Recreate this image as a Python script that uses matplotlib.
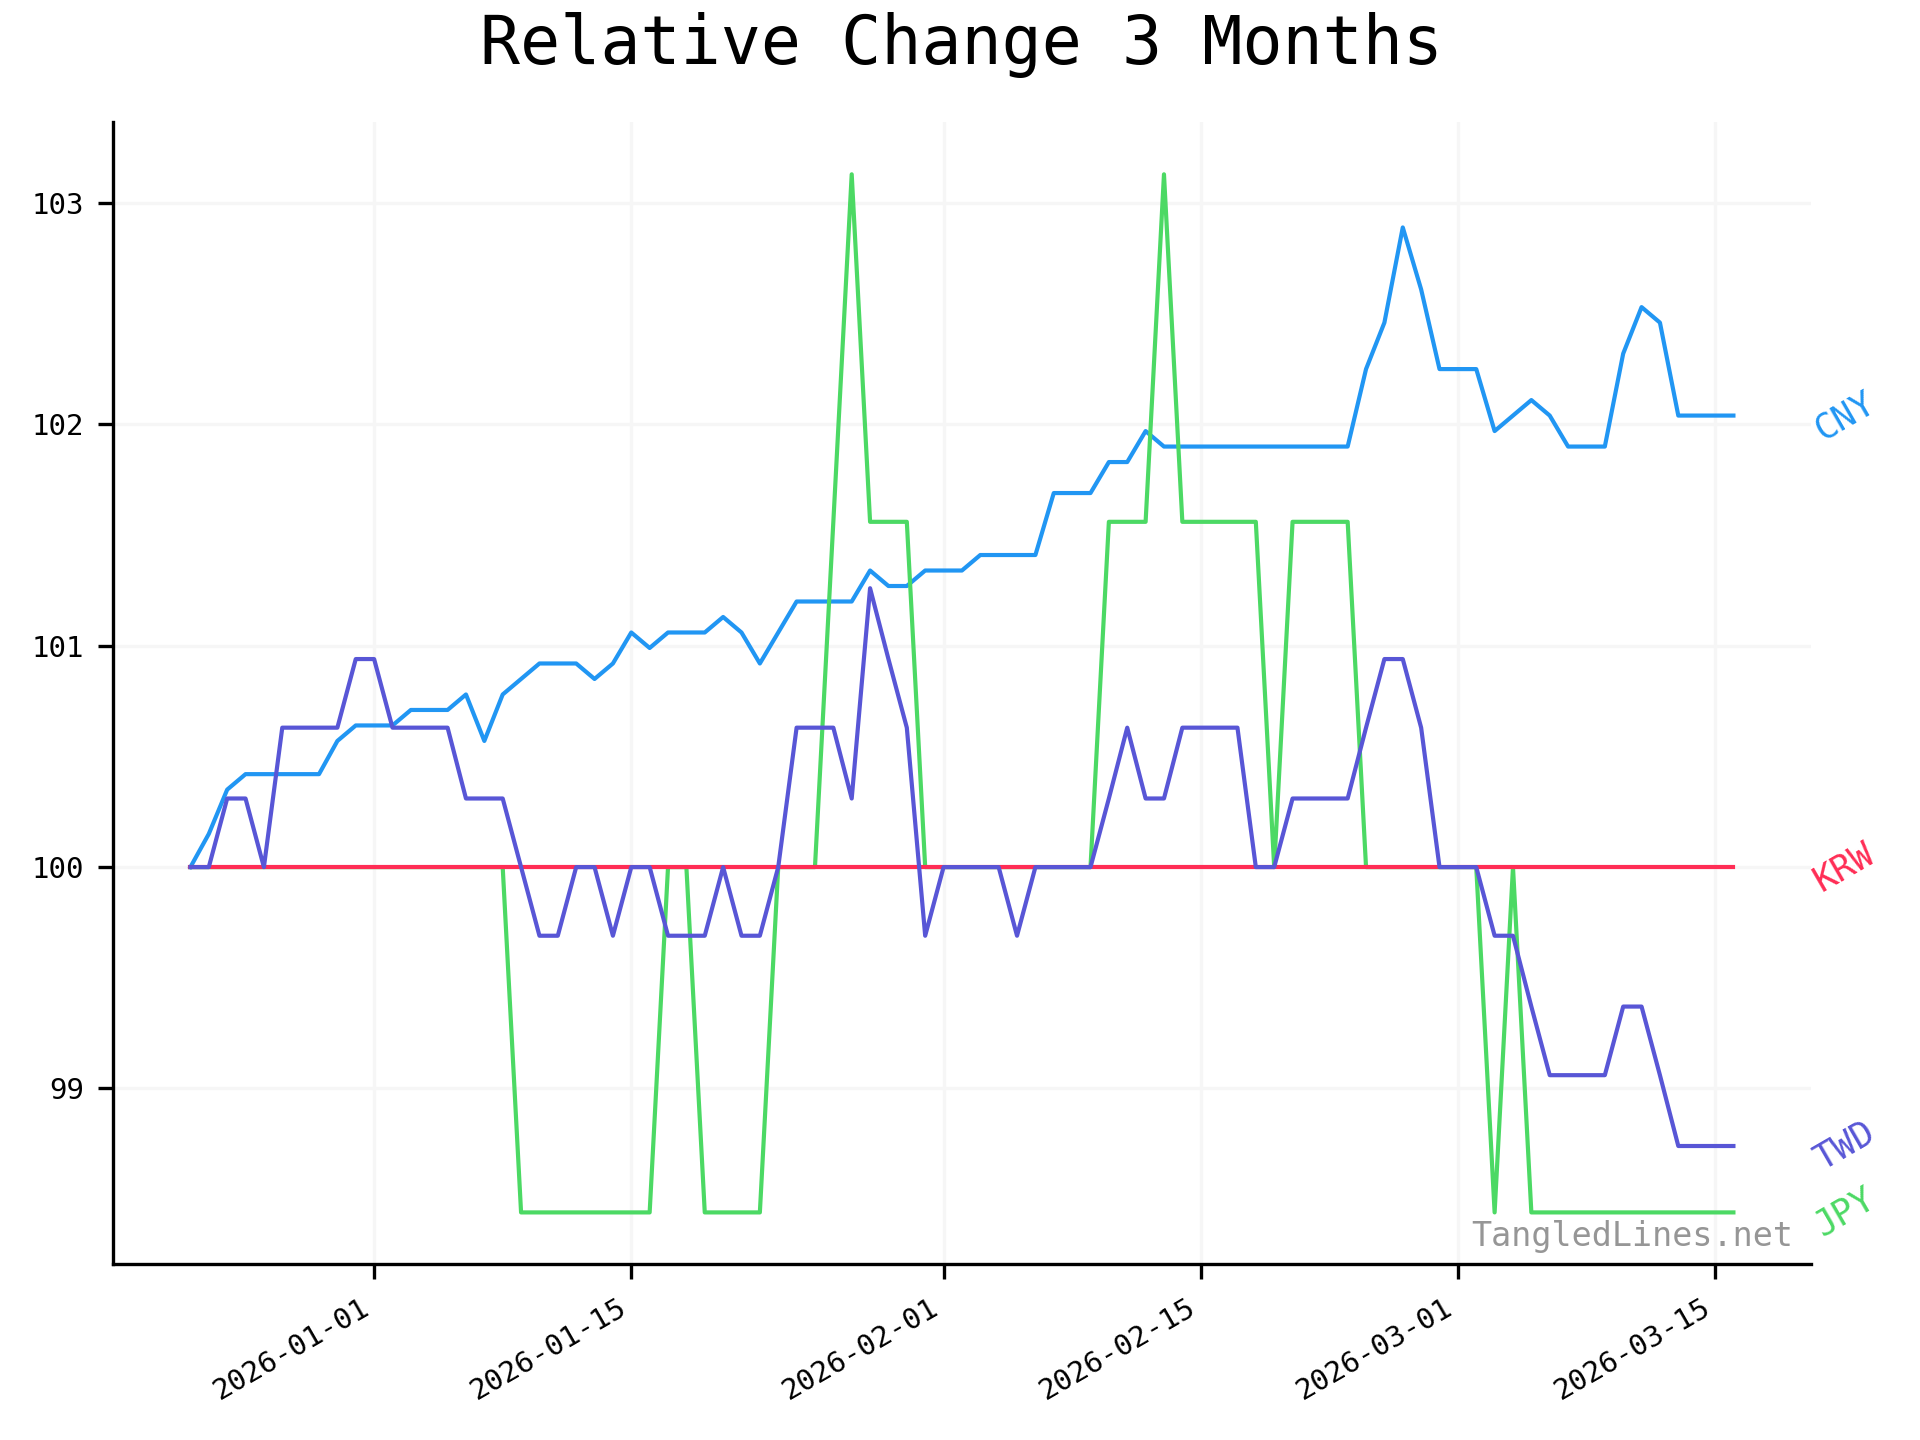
import pandas as pd
from matplotlib import pyplot as plt
import matplotlib.dates as mdates

plt.rcParams['font.family'] = 'DejaVu Sans Mono'

dates = pd.date_range('2025-12-22', '2026-03-16', freq='D')

cny = [100.00, 100.15, 100.35, 100.42, 100.42, 100.42, 100.42, 100.42, 100.57, 100.64,
       100.64, 100.64, 100.71, 100.71, 100.71, 100.78, 100.57, 100.78, 100.85, 100.92,
       100.92, 100.92, 100.85, 100.92, 101.06, 100.99, 101.06, 101.06, 101.06, 101.13,
       101.06, 100.92, 101.06, 101.20, 101.20, 101.20, 101.20, 101.34, 101.27, 101.27,
       101.34, 101.34, 101.34, 101.41, 101.41, 101.41, 101.41, 101.69, 101.69, 101.69,
       101.83, 101.83, 101.97, 101.90, 101.90, 101.90, 101.90, 101.90, 101.90, 101.90,
       101.90, 101.90, 101.90, 101.90, 102.25, 102.46, 102.89, 102.61, 102.25, 102.25,
       102.25, 101.97, 102.04, 102.11, 102.04, 101.90, 101.90, 101.90, 102.32, 102.53,
       102.46, 102.04, 102.04, 102.04, 102.04]

jpy = ([100.0] * 18 + [98.44] * 8 + [100.0] * 2 + [98.44] * 4 + [100.0] * 3
       + [101.56, 103.13, 101.56, 101.56, 101.56] + [100.0] * 10
       + [101.56] * 3 + [103.13] + [101.56] * 5 + [100.0] + [101.56] * 4
       + [100.0] * 7 + [98.44, 100.0] + [98.44] * 12)

krw = [100.0] * 85

twd = [100.00, 100.00, 100.31, 100.31, 100.00, 100.63, 100.63, 100.63, 100.63, 100.94,
       100.94, 100.63, 100.63, 100.63, 100.63, 100.31, 100.31, 100.31, 100.00, 99.69,
       99.69, 100.00, 100.00, 99.69, 100.00, 100.00, 99.69, 99.69, 99.69, 100.00,
       99.69, 99.69, 100.00, 100.63, 100.63, 100.63, 100.31, 101.26, 100.94, 100.63,
       99.69, 100.00, 100.00, 100.00, 100.00, 99.69, 100.00, 100.00, 100.00, 100.00,
       100.31, 100.63, 100.31, 100.31, 100.63, 100.63, 100.63, 100.63, 100.00, 100.00,
       100.31, 100.31, 100.31, 100.31, 100.63, 100.94, 100.94, 100.63, 100.00, 100.00,
       100.00, 99.69, 99.69, 99.37, 99.06, 99.06, 99.06, 99.06, 99.37, 99.37,
       99.06, 98.74, 98.74, 98.74, 98.74]

names = ['CNY', 'JPY', 'KRW', 'TWD']
colors = ['#2196F3', '#4CD964', '#FF2D55', '#5856D6']
series = [cny, jpy, krw, twd]

fig, ax = plt.subplots(figsize=(6.4, 4.8), dpi=300)

for name, col, vals in zip(names, colors, series):
    ax.plot(dates, vals, color=col, lw=1.0)
    ax.annotate(name, xy=(dates[-1], vals[-1]), xytext=(18, 0), textcoords='offset points',
                color=col, fontsize=8.5, rotation=30, ha='left', va='center')

ax.set_title('Relative Change 3 Months', fontsize=16, pad=14)
ax.grid(True, color='#f6f6f6', lw=0.8)
ax.set_axisbelow(True)
ax.spines['top'].set_visible(False)
ax.spines['right'].set_visible(False)

ax.xaxis.set_major_locator(mdates.DayLocator(bymonthday=[1, 15]))
ax.xaxis.set_major_formatter(mdates.DateFormatter('%Y-%m-%d'))
ax.tick_params(labelsize=7)
for lab in ax.get_xticklabels():
    lab.set_rotation(30)
    lab.set_ha('right')

ax.text(0.99, 0.01, 'TangledLines.net', transform=ax.transAxes, ha='right', va='bottom',
        fontsize=8, color='#969696')

plt.subplots_adjust(left=0.059, right=0.943, top=0.915, bottom=0.122)
plt.savefig('out.png')
